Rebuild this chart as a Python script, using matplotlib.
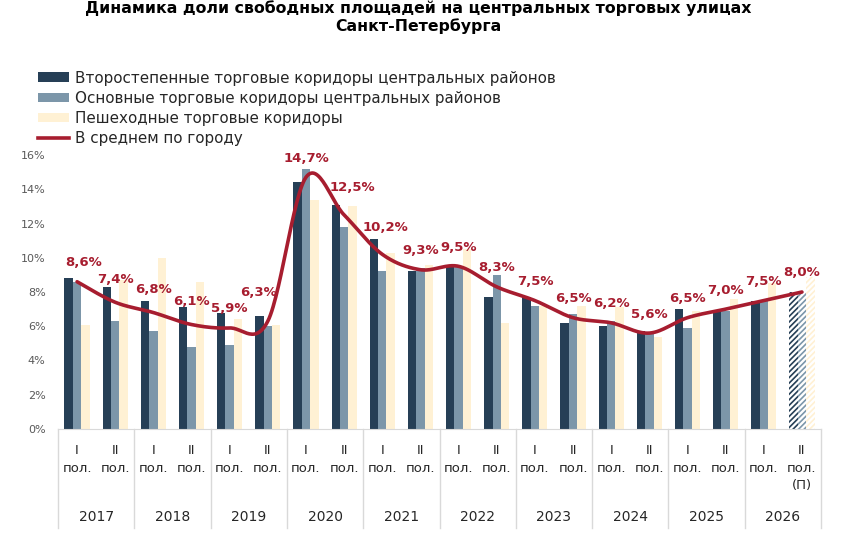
import numpy as np
import matplotlib.pyplot as plt
from matplotlib.patches import Patch
from matplotlib.lines import Line2D
import matplotlib.transforms as mtransforms

plt.rcParams['font.family'] = ['DejaVu Sans']
plt.rcParams['hatch.linewidth'] = 1.2

# data (shares of vacant space, %)
years = ['2017', '2018', '2019', '2020', '2021', '2022', '2023', '2024', '2025', '2026']
halves = ['I\nпол.', 'II\nпол.'] * 9 + ['I\nпол.', 'II\nпол.\n(П)']
secondary = [8.8, 8.3, 7.5, 7.1, 6.8, 6.6, 14.4, 13.1, 11.1, 9.2,
             9.5, 7.7, 7.7, 6.2, 6.0, 5.7, 7.0, 6.9, 7.5, 8.0]
main_streets = [8.6, 6.3, 5.7, 4.8, 4.9, 6.0, 15.2, 11.8, 9.2, 9.4,
                9.5, 9.0, 7.2, 6.7, 6.3, 5.6, 5.9, 6.9, 7.5, 8.0]
pedestrian = [6.1, 8.7, 10.0, 8.6, 6.4, 6.1, 13.4, 13.0, 10.3, 9.6,
              10.5, 6.2, 7.2, 7.2, 7.1, 5.4, 6.9, 7.6, 8.5, 8.9]
city_avg = [8.6, 7.4, 6.8, 6.1, 5.9, 6.3, 14.7, 12.5, 10.2, 9.3,
            9.5, 8.3, 7.5, 6.5, 6.2, 5.6, 6.5, 7.0, 7.5, 8.0]
series_names = ['Второстепенные торговые коридоры центральных районов',
                'Основные торговые коридоры центральных районов',
                'Пешеходные торговые коридоры',
                'В среднем по городу']

c_dark = '#263F56'
c_gray = '#7C96A9'
c_yel = '#FFF1D4'
c_red = '#A71D2F'
c_txt = '#595959'

fig = plt.figure(figsize=(8.47, 5.54), dpi=100)
ax = fig.add_axes([58 / 847, 1 - 429 / 554, (821 - 58) / 847, (429 - 155) / 554])

x = np.arange(len(city_avg))
w = 0.22
n_fact = len(x) - 1  # last half-year is a forecast
for vals, off, col in [(secondary, -w, c_dark), (main_streets, 0, c_gray), (pedestrian, w, c_yel)]:
    v = np.array(vals) / 100
    ax.bar(x[:n_fact] + off, v[:n_fact], w, color=col, linewidth=0)
    ax.bar(x[n_fact:] + off, v[n_fact:], w, facecolor='white', edgecolor=col,
           hatch='//////', linewidth=0)

# smoothed line (Catmull-Rom through the points, like Excel's smooth line)
y = np.array(city_avg) / 100
pts = np.column_stack([x, y])
ext = np.vstack([pts[0], pts, pts[-1]])
curve = []
t = np.linspace(0, 1, 30)[:, None]
for i in range(1, len(ext) - 2):
    p0, p1, p2, p3 = ext[i - 1], ext[i], ext[i + 1], ext[i + 2]
    c1 = p1 + (p2 - p0) / 6
    c2 = p2 - (p3 - p1) / 6
    seg = ((1 - t) ** 3) * p1 + 3 * ((1 - t) ** 2) * t * c1 + 3 * (1 - t) * t ** 2 * c2 + t ** 3 * p2
    curve.append(seg)
curve = np.vstack(curve)
ax.plot(curve[:, 0], curve[:, 1], color=c_red, lw=2.6, solid_capstyle='round', zorder=5)

# data labels
dx = {0: 7, 5: -9, 7: 8, 8: 3}
dy = {1: 4, 2: 4, 3: 4, 5: 10, 7: 8, 8: 8}
for i, v in enumerate(city_avg):
    ax.annotate(f'{v:.1f}%'.replace('.', ','), (x[i], v / 100),
                xytext=(dx.get(i, 0) * 0.72, (19 + dy.get(i, 0)) * 0.72), textcoords='offset points',
                ha='center', va='center', color=c_red, fontsize=9.5, fontweight='bold', zorder=6)

ax.set_xlim(-0.5, len(x) - 0.5)
ax.set_ylim(0, 0.16)
ax.set_yticks(np.arange(0, 0.161, 0.02))
ax.set_yticklabels([f'{int(round(v * 100))}%' for v in np.arange(0, 0.161, 0.02)], fontsize=8, color=c_txt)
ax.tick_params(axis='y', length=0, pad=9)
ax.set_xticks(x)
ax.set_xticklabels(halves, fontsize=9.5, color='#262626', linespacing=1.45, va='top')
ax.tick_params(axis='x', length=0, pad=11)
for side in ['top', 'right', 'left']:
    ax.spines[side].set_visible(False)
ax.spines['bottom'].set_color('#D9D9D9')

# year labels and separators
trans = mtransforms.blended_transform_factory(ax.transData, ax.transAxes)
for k, yr in enumerate(years):
    ax.text(2 * k + 0.5, -88 / 274, yr, transform=trans, ha='center', va='center',
            fontsize=10, color='#262626')
for b in np.arange(-0.5, len(x), 2):
    ax.plot([b, b], [0, -99 / 274], transform=trans, color='#D9D9D9', lw=1, clip_on=False)

# title
fig.text(0.494, 1 - 8 / 554, 'Динамика доли свободных площадей на центральных торговых улицах',
         ha='center', va='center', fontsize=11.3, fontweight='bold', color='black')
fig.text(0.494, 1 - 26 / 554, 'Санкт-Петербурга',
         ha='center', va='center', fontsize=11.3, fontweight='bold', color='black')

handles = [Patch(facecolor=c_dark), Patch(facecolor=c_gray), Patch(facecolor=c_yel),
           Line2D([0], [0], color=c_red, lw=2.6)]
fig.legend(handles, series_names, loc='upper left', bbox_to_anchor=(30 / 847, 1 - 63 / 554),
           frameon=False, fontsize=10.9, handlelength=2.1, handleheight=0.6, handletextpad=0.35,
           labelspacing=0.34, borderpad=0, labelcolor='#262626')

fig.savefig('out.png', dpi=100)
